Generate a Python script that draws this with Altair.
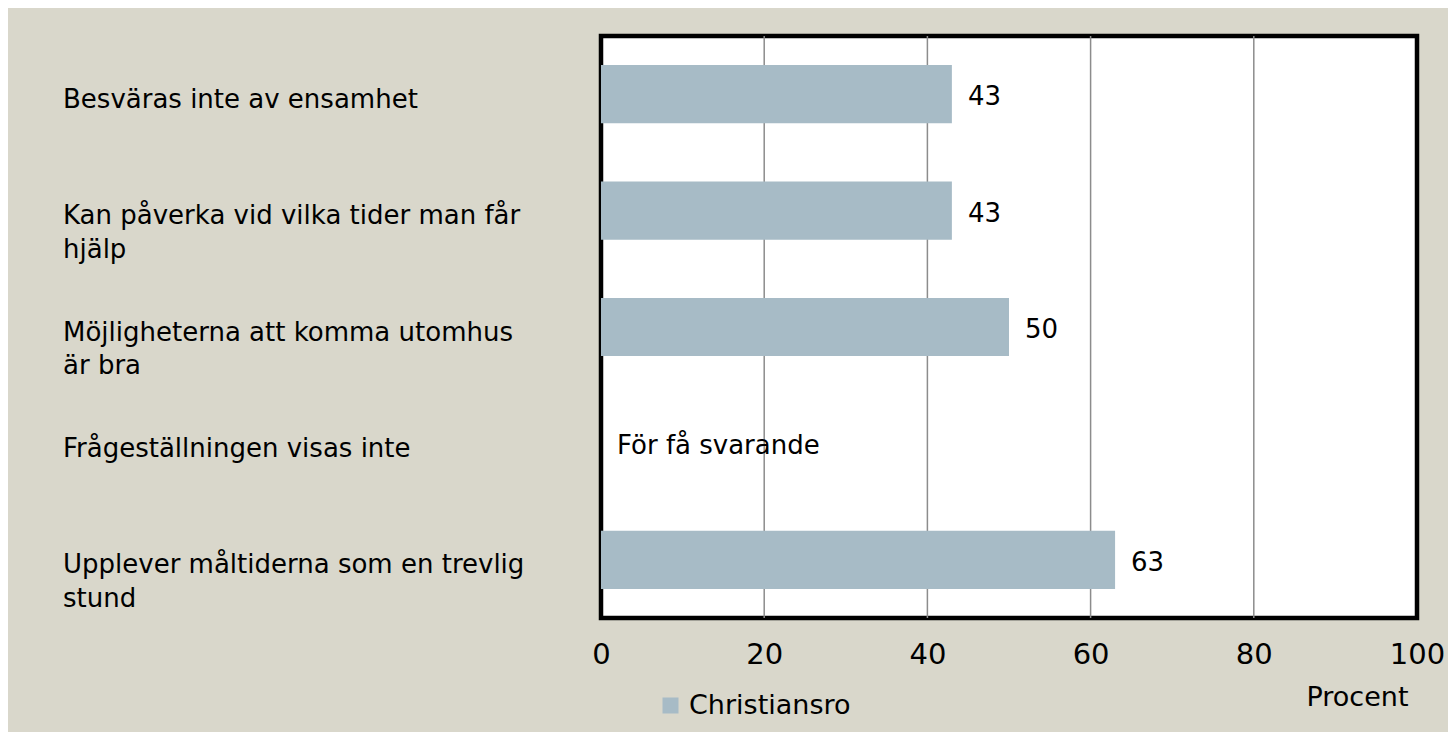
import altair as alt
import pandas as pd

categories = [
    "Besväras inte av ensamhet",
    "Kan påverka vid vilka tider man får\nhjälp",
    "Möjligheterna att komma utomhus\när bra",
    "Frågeställningen visas inte",
    "Upplever måltiderna som en trevlig\nstund",
]
values = [43, 43, 50, None, 63]
value_labels = ["43", "43", "50", "För få svarande", "63"]
series_name = "Christiansro"
x_ticks = [0, 20, 40, 60, 80, 100]
grid_values = [20, 40, 60, 80]

FONT = "DejaVu Sans"
BAR = "#a7bbc6"
BG = "#d9d7cb"

df = pd.DataFrame({
    "cat": categories,
    "value": values,
    "txt": value_labels,
    "series": [series_name] * len(categories),
})
df["xpos"] = df["value"].fillna(0)

grid_df = pd.DataFrame({"g": grid_values})

xscale = alt.Scale(domain=[0, 100], nice=False, zero=True)
yscale = alt.Scale(domain=categories, paddingInner=0.5, paddingOuter=0.25)

grid = alt.Chart(grid_df).mark_rule(color="#8c8c8c", strokeWidth=1.5).encode(
    x=alt.X("g:Q", scale=xscale)
)

bars = alt.Chart(df).mark_bar(cornerRadius=0).encode(
    x=alt.X(
        "value:Q",
        scale=xscale,
        axis=alt.Axis(
            values=x_ticks,
            grid=False,
            ticks=False,
            tickSize=0,
            domain=False,
            labelFont=FONT,
            labelFontSize=29,
            labelColor="black",
            labelPadding=22,
            labelFlush=False,
            title="Procent",
            titleFont=FONT,
            titleFontSize=27,
            titleFontWeight="normal",
            titleColor="black",
            titleX=756,
            titleY=79,
            titleAlign="center",
            titleBaseline="middle",
        ),
    ),
    y=alt.Y("cat:N", scale=yscale, sort=categories, axis=None),
    color=alt.Color(
        "series:N",
        scale=alt.Scale(domain=[series_name], range=[BAR]),
        legend=alt.Legend(
            title=None,
            orient="none",
            legendX=56,
            legendY=656,
            padding=0,
            symbolType="square",
            symbolSize=256,
            symbolStrokeWidth=0,
            symbolOpacity=1,
            labelFont=FONT,
            labelFontSize=27,
            labelColor="black",
            labelOffset=5,
            labelLimit=400,
        ),
    ),
)

value_text = alt.Chart(df).mark_text(
    align="left", baseline="middle", dx=16, dy=3, font=FONT, fontSize=26, color="black"
).encode(
    x=alt.X("xpos:Q", scale=xscale),
    y=alt.Y("cat:N", scale=yscale, sort=categories),
    text="txt:N",
)

cat_text = alt.Chart(df).mark_text(
    align="left", baseline="top", dy=-7.5, font=FONT, fontSize=26, color="black",
    lineBreak="\n", lineHeight=33.5,
).encode(
    x=alt.value(-538),
    y=alt.Y("cat:N", scale=yscale, sort=categories),
    text="cat:N",
)

chart = alt.layer(grid, bars, value_text, cat_text).properties(
    width=816,
    height=582,
    autosize=alt.AutoSizeParams(type="none"),
    padding={"left": 593, "top": 28, "right": 31, "bottom": 114},
    background=BG,
).configure_view(
    fill="white", stroke="black", strokeWidth=4.5
)

chart.save("out.html", embed_options={"renderer": "svg", "actions": False})
